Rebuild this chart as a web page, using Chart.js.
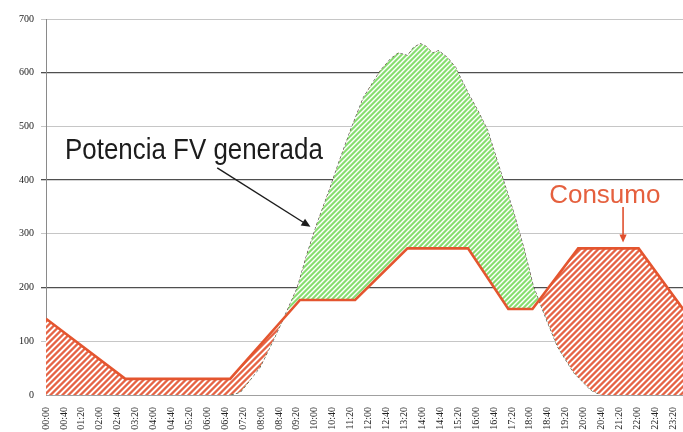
<!DOCTYPE html>
<html>
<head>
<meta charset="utf-8">
<script src="https://cdn.jsdelivr.net/npm/chart.js@4/dist/chart.umd.min.js"></script>
<style>
  html, body { margin: 0; padding: 0; background: #fff; overflow: hidden; }
  #wrap { width: 683px; height: 432px; position: relative; }
</style>
</head>
<body>
<div id="wrap"><canvas id="c" width="683" height="432"></canvas></div>
<script>
// Hour of day (decimal hours) and power (W) of the PV output
const pvHours = [0, 6.86, 7.23, 7.6, 7.97, 8.46, 8.98, 9.35, 9.72, 10.09,
  10.58, 10.88, 11.33, 11.81, 12.44, 12.82, 13.11, 13.45, 13.67, 13.93,
  14.12, 14.38, 14.61, 14.94, 15.24, 15.42, 15.72, 16.06, 16.43, 16.92,
  17.4, 17.77, 18.14, 18.67, 19.04, 19.64, 20.27, 20.64, 23.7];
const pvPower = [0, 0, 5, 28, 52, 102, 158, 200, 264, 320,
  387, 431, 493, 554, 604, 626, 637, 632, 647, 654,
  650, 637, 641, 628, 610, 591, 561, 530, 493, 415,
  340, 275, 201, 134, 89, 41, 9, 0, 0];

// Household load profile
const loadHours = [0, 2.95, 6.85, 9.45, 11.5, 13.45, 15.7, 17.2, 18.1, 19.8, 22.05, 23.7];
const loadPower = [142, 30, 30, 177, 177, 273, 273, 160, 160, 273, 273, 160];

// Time axis labels, one every 40 minutes
const timeLabels = ['00:00','00:40','01:20','02:00','02:40','03:20','04:00','04:40','05:20',
  '06:00','06:40','07:20','08:00','08:40','09:20','10:00','10:40','11:20','12:00','12:40',
  '13:20','14:00','14:40','15:20','16:00','16:40','17:20','18:00','18:40','19:20','20:00',
  '20:40','21:20','22:00','22:40','23:20'];
const tickStepHours = 40 / 60;
const xMaxHours = 23.7;

// Diagonal "/" hatch tile, stripe colour on white
function hatch(rgb, period, stripe) {
  const c = document.createElement('canvas');
  c.width = period; c.height = period;
  const g = c.getContext('2d');
  const img = g.createImageData(period, period);
  for (let y = 0; y < period; y++) {
    for (let x = 0; x < period; x++) {
      let cov = 0;
      for (let sy = 0; sy < 4; sy++) for (let sx = 0; sx < 4; sx++) {
        const d = (x + (sx + 0.5) / 4 + y + (sy + 0.5) / 4) % period;
        if (d < stripe) cov++;
      }
      const a = cov / 16, i = (y * period + x) * 4;
      img.data[i] = Math.round(255 + (rgb[0] - 255) * a);
      img.data[i + 1] = Math.round(255 + (rgb[1] - 255) * a);
      img.data[i + 2] = Math.round(255 + (rgb[2] - 255) * a);
      img.data[i + 3] = 255;
    }
  }
  g.putImageData(img, 0, 0);
  return g.createPattern(c, 'repeat');
}
const surplusFill = hatch([135, 222, 112], 5, 2.9);
const deficitFill = hatch([230, 100, 70], 6, 3.1);

function arrow(ctx, x1, y1, x2, y2, color, head, width) {
  const ang = Math.atan2(y2 - y1, x2 - x1);
  ctx.save();
  ctx.strokeStyle = color; ctx.fillStyle = color; ctx.lineWidth = width;
  ctx.beginPath();
  ctx.moveTo(x1, y1);
  ctx.lineTo(x2 - Math.cos(ang) * head * 0.8, y2 - Math.sin(ang) * head * 0.8);
  ctx.stroke();
  ctx.beginPath();
  ctx.moveTo(x2, y2);
  ctx.lineTo(x2 - head * Math.cos(ang) + head * 0.45 * Math.sin(ang), y2 - head * Math.sin(ang) - head * 0.45 * Math.cos(ang));
  ctx.lineTo(x2 - head * Math.cos(ang) - head * 0.45 * Math.sin(ang), y2 - head * Math.sin(ang) + head * 0.45 * Math.cos(ang));
  ctx.closePath();
  ctx.fill();
  ctx.restore();
}

// Callout texts and arrows, placed in hour / watt units
const callouts = {
  id: 'callouts',
  afterDatasetsDraw(chart) {
    const ctx = chart.ctx, xs = chart.scales.x, ys = chart.scales.y;
    const X = h => xs.getPixelForValue(h), Y = v => ys.getPixelForValue(v);

    // "Potencia FV generada"
    ctx.save();
    ctx.font = '29px "Liberation Sans", Arial, sans-serif';
    ctx.fillStyle = '#1c1c1c';
    ctx.textBaseline = 'alphabetic';
    const t1 = 'Potencia FV generada';
    const w1 = ctx.measureText(t1).width;
    const x1 = X(0.71), x1End = X(10.3);
    ctx.translate(x1, Y(439));
    ctx.scale((x1End - x1) / w1, 1);
    ctx.fillText(t1, 0, 0);
    ctx.restore();
    arrow(ctx, X(6.37), Y(423), X(9.84), Y(313), '#1c1c1c', 9, 1.4);

    // "Consumo"
    ctx.save();
    ctx.font = '26px "Liberation Sans", Arial, sans-serif';
    ctx.fillStyle = '#e5603e';
    ctx.textBaseline = 'alphabetic';
    ctx.fillText('Consumo', X(18.72), Y(357));
    ctx.restore();
    arrow(ctx, X(21.47), Y(350), X(21.47), Y(284), '#e0502e', 8, 1.6);
  }
};

new Chart(document.getElementById('c'), {
  type: 'line',
  data: {
    datasets: [
      {
        label: 'Consumo',
        data: loadHours.map((h, i) => ({ x: h, y: loadPower[i] })),
        borderColor: '#e4552f',
        borderWidth: 2.6,
        pointRadius: 0,
        tension: 0,
        fill: { target: 1, above: deficitFill, below: surplusFill }
      },
      {
        label: 'Potencia FV generada',
        data: pvHours.map((h, i) => ({ x: h, y: pvPower[i] })),
        borderColor: '#3a3a3a',
        borderWidth: 1,
        borderDash: [3, 2],
        pointRadius: 0,
        tension: 0,
        fill: false
      }
    ]
  },
  options: {
    responsive: false,
    animation: false,
    devicePixelRatio: 1,
    layout: { padding: { top: 19, right: 0, left: 0, bottom: 0 } },
    plugins: { legend: { display: false }, tooltip: { enabled: false } },
    scales: {
      x: {
        type: 'linear',
        min: 0,
        max: xMaxHours,
        grid: { display: false },
        border: { display: true, color: '#a0a0a0', dash: [2, 2], width: 1 },
        afterBuildTicks(scale) {
          scale.ticks = timeLabels.map((l, i) => ({ value: i * tickStepHours }));
        },
        ticks: {
          autoSkip: false,
          minRotation: 90,
          maxRotation: 90,
          padding: 4,
          color: '#222',
          font: { family: '"Liberation Serif", serif', size: 10 },
          callback: (v, i) => timeLabels[i]
        },
        afterFit(scale) { scale.height = 37; scale.paddingLeft = 0; scale.paddingRight = 0; }
      },
      y: {
        min: 0,
        max: 700,
        ticks: {
          stepSize: 100,
          padding: 7,
          color: '#222',
          font: { family: '"Liberation Serif", serif', size: 10 }
        },
        grid: {
          tickLength: 5,
          color: c => c.tick.value === 0 ? 'rgba(0,0,0,0)' : (c.tick.value % 200 === 0 ? '#4f4f4f' : '#c6c6c6'),
          lineWidth: c => (c.tick.value % 200 === 0 ? 1.3 : 1)
        },
        border: { display: true, color: '#8a8a8a', width: 1 },
        afterFit(scale) { scale.width = 46; scale.paddingTop = 0; scale.paddingBottom = 0; }
      }
    }
  },
  plugins: [callouts]
});
</script>
</body>
</html>
